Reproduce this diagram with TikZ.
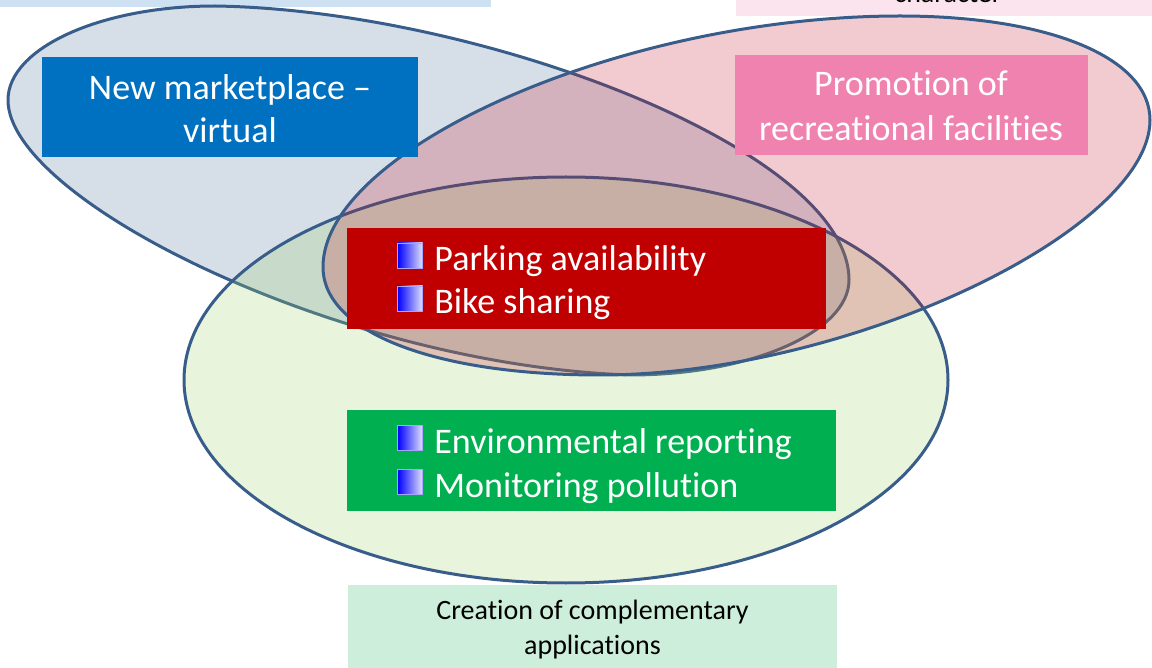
\documentclass[tikz,border=0pt]{standalone}
\usepackage{fontspec}
\setmainfont{Carlito}[Ligatures={NoCommon,NoContextual}]
\begin{document}
\begin{tikzpicture}[x=0.5pt,y=-0.5pt,
  outline/.style={draw=lineblue, line width=1.5pt, line join=round},
  blueset/.style={outline, fill=setblue, fill opacity=0.25},
  greenset/.style={outline, fill=setgreen, fill opacity=0.24},
  pinkset/.style={outline, fill=setpink, fill opacity=0.22},
  box/.style={rectangle, anchor=north west, inner sep=0pt, draw=none},
  bigtext/.style={anchor=base, inner sep=0pt, text=white, font=\fontsize{18}{21.6}\selectfont},
  bullettext/.style={anchor=base west, inner sep=0pt, text=white, font=\fontsize{18}{21.6}\selectfont},
  smalltext/.style={anchor=base, inner sep=0pt, text=black, font=\fontsize{14}{16.8}\selectfont},
  bulletsq/.style={rectangle, inner sep=0pt, minimum width=12.5pt, minimum height=12.5pt,
    left color=blue, right color=blue!12, draw=blue!35, line width=0.3pt}
]
\definecolor{lineblue}{HTML}{385D8A}
\definecolor{setblue}{RGB}{92,124,164}
\definecolor{setgreen}{RGB}{158,212,108}
\definecolor{setpink}{RGB}{198,20,40}
\definecolor{boxblue}{HTML}{0070C0}
\definecolor{boxpink}{HTML}{F082B0}
\definecolor{boxred}{HTML}{C00000}
\definecolor{boxgreen}{HTML}{00B050}
\definecolor{labelgreen}{HTML}{CCEEDA}
\definecolor{barblue}{HTML}{CDE1F2}
\definecolor{barpink}{HTML}{FBE4EE}

\useasboundingbox (0,0) rectangle (1152,668);
\clip (0,0) rectangle (1152,668);

% partly hidden caption bars along the top edge
\node[box, fill=barblue, minimum width=245.5pt, minimum height=60pt] (barL) at (0,-113) {};
\node[box, fill=barpink, minimum width=212pt, minimum height=70pt] (barR) at (736,-124) {};
\node[smalltext] (charR) at (948,3) {character};

% left set: an egg, broad on the left, narrow towards the lower right
\draw[blueset] (8,100)
  .. controls (8,48) and (101,6) .. (215,6)
  .. controls (480,10) and (849,150) .. (849,280)
  .. controls (849,332) and (750,375) .. (630,375)
  .. controls (340,365) and (8,200) .. cycle;

% lower set
\draw[greenset] (566,380) ellipse [x radius=191pt, y radius=101.5pt];

% right set: an egg, broad on the right, narrow towards the lower left
\draw[pinkset] (323,267)
  .. controls (323,150) and (620,16) .. (900,16)
  .. controls (1050,16) and (1150,58) .. (1150,120)
  .. controls (1150,230) and (850,375) .. (600,375)
  .. controls (434,375) and (323,332) .. cycle;

% labelled boxes
\node[box, fill=boxblue, minimum width=188pt, minimum height=50pt] (market) at (42,57) {};
\node[bigtext] (market1) at (230,100) {New marketplace –};
\node[bigtext] (market2) at (230,143) {virtual};

\node[box, fill=boxpink, minimum width=176.5pt, minimum height=50pt] (recre) at (735,55) {};
\node[bigtext] (recre1) at (911,96) {Promotion of};
\node[bigtext] (recre2) at (911,141) {recreational facilities};

\node[box, fill=boxred, minimum width=239.5pt, minimum height=50.5pt] (mobil) at (347,228) {};
\node[bulletsq] (mb1) at (410,255.5) {};
\node[bullettext] (mt1) at (434,271) {Parking availability};
\node[bulletsq] (mb2) at (410,298.5) {};
\node[bullettext] (mt2) at (434,314) {Bike sharing};

\node[box, fill=boxgreen, minimum width=244.5pt, minimum height=50.5pt] (envir) at (347,410) {};
\node[bulletsq] (eb1) at (410,437.5) {};
\node[bullettext] (et1) at (434,453) {Environmental reporting};
\node[bulletsq] (eb2) at (410,481.5) {};
\node[bullettext] (et2) at (434,497) {Monitoring pollution};

\node[box, fill=labelgreen, minimum width=244.5pt, minimum height=55pt] (compl) at (348,585) {};
\node[smalltext] (compl1) at (592.5,619) {Creation of complementary};
\node[smalltext] (compl2) at (592.5,654) {applications};
\end{tikzpicture}
\end{document}
